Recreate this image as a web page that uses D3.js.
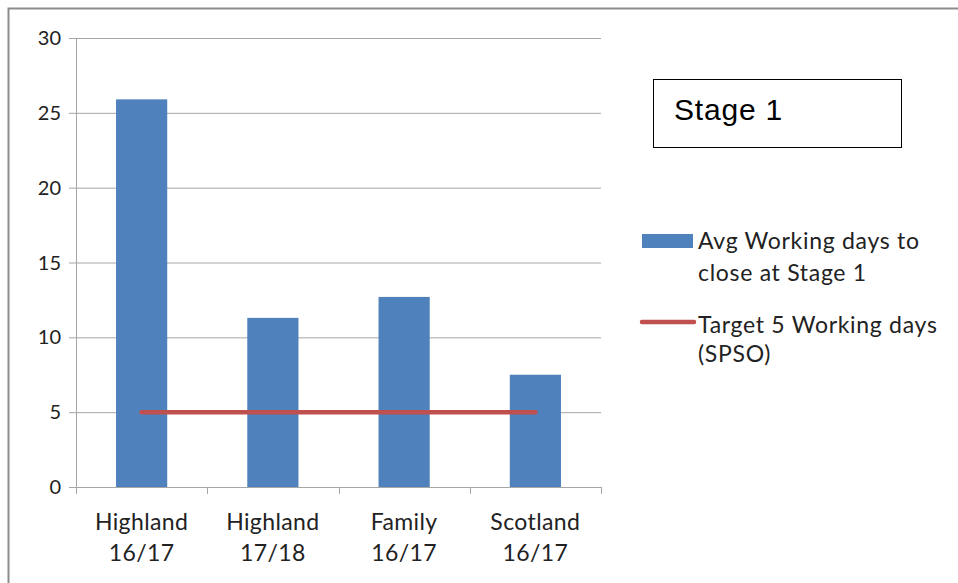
<!DOCTYPE html>
<html><head><meta charset="utf-8">
<script src="https://cdn.jsdelivr.net/npm/d3@7"></script>
<style>body{margin:0;background:#fff}svg{display:block}</style>
</head><body>
<svg id="c" width="958" height="583"></svg>
<script>
const categories = [["Highland","16/17"],["Highland","17/18"],["Family","16/17"],["Scotland","16/17"]];
const avgDays = [25.9, 11.3, 12.7, 7.5];
const target = [5, 5, 5, 5];
const yTicks = [0, 5, 10, 15, 20, 25, 30];
const legendLabels = [["Avg Working days to","close at Stage 1"],["Target 5 Working days","(SPSO)"]];
const titleText = "Stage 1";

const svg = d3.select("#c");
const font = "Lato, 'Open Sans', sans-serif";
svg.append("rect").attr("x",8.5).attr("y",8.5).attr("width",960).attr("height",600)
  .attr("fill","#fff").attr("stroke","#8c8c8c").attr("stroke-width",2);

const L=76, R=601, T=38, B=487;
const x = d3.scaleBand().domain(d3.range(categories.length)).range([L,R]).paddingInner(0.61).paddingOuter(0.305);
const y = d3.scaleLinear().domain([0,30]).range([B,T]);

// grid
svg.append("g").selectAll("line").data(yTicks).join("line")
  .attr("x1",L-7).attr("x2",R).attr("y1",d=>y(d)+0.5).attr("y2",d=>y(d)+0.5)
  .attr("stroke","#a6a6a6").attr("stroke-width",1);
// y axis line
svg.append("line").attr("x1",L+0.5).attr("x2",L+0.5).attr("y1",T).attr("y2",B).attr("stroke","#a6a6a6");
// x tick marks at boundaries
const bounds = d3.range(categories.length+1).map(i=>L+i*(R-L)/categories.length);
svg.append("g").selectAll("line").data(bounds).join("line")
  .attr("x1",d=>Math.round(d)+0.5).attr("x2",d=>Math.round(d)+0.5).attr("y1",B).attr("y2",B+7)
  .attr("stroke","#a6a6a6");

// y labels
svg.append("g").selectAll("text").data(yTicks).join("text")
  .attr("x",L-15).attr("y",d=>y(d)+7).attr("text-anchor","end")
  .attr("font-family",font).attr("font-size",20).attr("fill","#222").text(d=>d);

// bars
svg.append("g").selectAll("rect").data(avgDays).join("rect")
  .attr("x",(d,i)=>x(i)).attr("width",x.bandwidth())
  .attr("y",d=>y(d)).attr("height",d=>y(0)-y(d)).attr("fill","#4F81BD");

// target line
const cx = i => x(i)+x.bandwidth()/2;
svg.append("path").datum(target)
  .attr("d", d3.line().x((d,i)=>cx(i)).y(d=>y(d)))
  .attr("fill","none").attr("stroke","#C0504D").attr("stroke-width",4.5).attr("stroke-linecap","round");

// x labels
const xl = svg.append("g").selectAll("text").data(categories).join("text")
  .attr("text-anchor","middle").attr("font-family",font).attr("font-size",23)
  .attr("letter-spacing",0.4).attr("fill","#222");
xl.append("tspan").attr("x",(d,i)=>cx(i)).attr("y",530).text(d=>d[0]);
xl.append("tspan").attr("x",(d,i)=>cx(i)).attr("y",561).text(d=>d[1]);

// title box
svg.append("rect").attr("x",653.5).attr("y",79.5).attr("width",248).attr("height",68)
  .attr("fill","#fff").attr("stroke","#000").attr("stroke-width",1);
svg.append("text").attr("x",674).attr("y",120).attr("font-family","'Liberation Sans', Arial, sans-serif")
  .attr("font-size",30).attr("letter-spacing",0.8).attr("fill","#000").text(titleText);

// legend
svg.append("rect").attr("x",642).attr("y",234).attr("width",51).attr("height",14).attr("fill","#4F81BD");
svg.append("line").attr("x1",642).attr("x2",694).attr("y1",322).attr("y2",322)
  .attr("stroke","#C0504D").attr("stroke-width",4.5).attr("stroke-linecap","round");
const legY = [[249,281],[333,362]];
legendLabels.forEach((lab,i)=>{
  const t = svg.append("text").attr("font-family",font).attr("font-size",23)
    .attr("letter-spacing",0.7).attr("fill","#222");
  t.append("tspan").attr("x",698).attr("y",legY[i][0]).text(lab[0]);
  t.append("tspan").attr("x",698).attr("y",legY[i][1]).text(lab[1]);
});
</script>
</body></html>
